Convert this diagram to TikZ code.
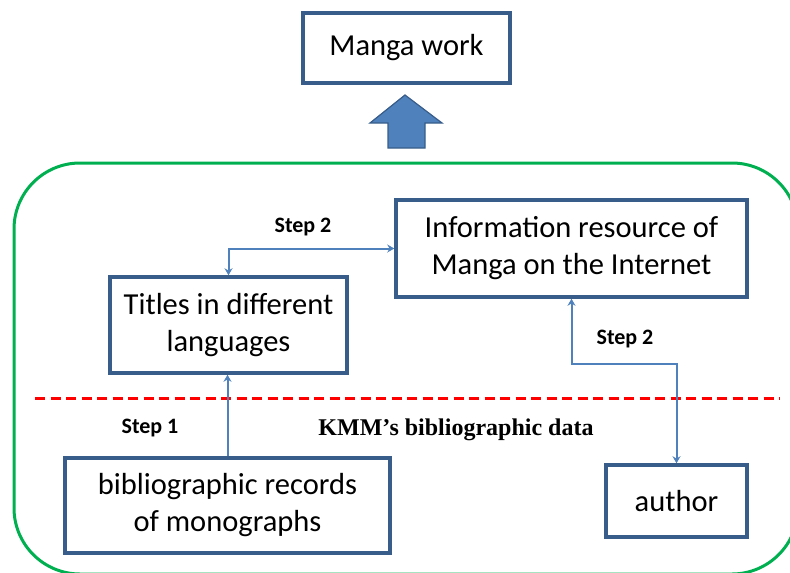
\documentclass[tikz,border=0pt]{standalone}
\usepackage{fontspec}
\setmainfont{Carlito}
\newfontfamily\serifbold{Liberation Serif}[BoldFont=* Bold]
\usetikzlibrary{arrows.meta}
\definecolor{boxline}{HTML}{385D8A}
\definecolor{linkblue}{HTML}{4F81BD}
\definecolor{framegreen}{HTML}{00B050}
\definecolor{splitred}{HTML}{FF0000}
\tikzset{
  stepbox/.style={draw=boxline, line width=3.5pt, fill=white, align=center,
    inner sep=0pt, font=\fontsize{30.5}{37}\selectfont},
  conn/.style={draw=linkblue, line width=2pt,
    {Stealth[length=7pt,width=8pt]}-{Stealth[length=7pt,width=8pt]}},
  uplink/.style={draw=linkblue, line width=2pt, -{Stealth[length=7pt,width=8pt]}},
  steplabel/.style={font=\fontsize{22}{26}\selectfont\bfseries},
}
\begin{document}
\begin{tikzpicture}[x=1pt,y=-1pt]
\useasboundingbox (0,0) rectangle (790,573);

% outer green frame
\draw[framegreen, line width=3pt, rounded corners=66pt] (14,163) rectangle (798,574);

% dashed separator
\draw[splitred, line width=3pt, dash pattern=on 10pt off 5.5pt] (35,398) -- (780,398);

% boxes
\node[stepbox, minimum width=207pt, minimum height=70pt] (manga) at (406.5,48) {Manga work};
\node[stepbox, minimum width=351pt, minimum height=97pt] (info) at (571.5,248.5)
  {Information resource of\\Manga on the Internet};
\node[stepbox, minimum width=237pt, minimum height=96pt] (titles) at (228.5,325)
  {Titles in different\\languages};
\node[stepbox, minimum width=325pt, minimum height=95pt] (bib) at (227.5,505.5)
  {bibliographic records\\of monographs};
\node[stepbox, minimum width=141pt, minimum height=72pt] (author) at (676.5,501) {author};

% block arrow towards the manga work
\draw[boxline, fill=linkblue, line width=1.2pt, line join=miter]
  (405,95) -- (442,123) -- (425,123) -- (425,148) -- (388,148) -- (388,123) -- (370,123) -- cycle;

% connectors
\draw[uplink] (bib.north) -- (bib.north |- titles.south);
\draw[conn] (titles.north) |- (info.west);
\coordinate (bend) at (620,364);
\draw[conn] (info.south) |- (bend) -| (author.north);

% labels
\node[steplabel] (s2a) at (303,227) {Step 2};
\node[steplabel] (s2b) at (625,339) {Step 2};
\node[steplabel] (s1) at (150,428) {Step 1};
\node[font=\fontsize{24}{28}\selectfont\serifbold\bfseries] (kmm) at (456,430) {KMM’s bibliographic data};
\end{tikzpicture}
\end{document}
